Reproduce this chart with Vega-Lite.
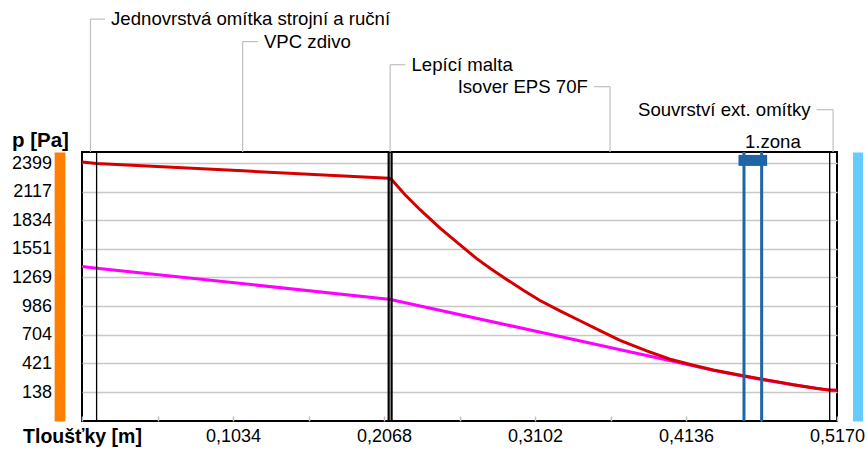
{
  "$schema": "https://vega.github.io/schema/vega-lite/v6.json",
  "width": 755,
  "height": 269,
  "autosize": {"type": "none"},
  "padding": {"left": 82, "top": 152, "right": 30, "bottom": 31},
  "background": "white",
  "config": {
    "view": {"stroke": "#000000", "strokeWidth": 2},
    "font": "Liberation Sans",
    "text": {"font": "Liberation Sans", "fontSize": 18.6, "color": "#000000"}
  },
  "datasets": {
    "profile": [
      {"series": "p", "x": 0, "p": 1377},
      {"series": "p", "x": 0.01, "p": 1361},
      {"series": "p", "x": 0.21, "p": 1055},
      {"series": "p", "x": 0.212, "p": 1050},
      {"series": "p", "x": 0.3273, "p": 686},
      {"series": "p", "x": 0.4186, "p": 398},
      {"series": "p", "x": 0.4323, "p": 352},
      {"series": "p", "x": 0.4533, "p": 294},
      {"series": "p", "x": 0.4654, "p": 261},
      {"series": "p", "x": 0.4871, "p": 210},
      {"series": "p", "x": 0.5115, "p": 157},
      {"series": "p", "x": 0.517, "p": 155},
      {"series": "psat", "x": 0, "p": 2409},
      {"series": "psat", "x": 0.01, "p": 2395},
      {"series": "psat", "x": 0.11, "p": 2322},
      {"series": "psat", "x": 0.21, "p": 2249},
      {"series": "psat", "x": 0.212, "p": 2236},
      {"series": "psat", "x": 0.2212, "p": 2086},
      {"series": "psat", "x": 0.2315, "p": 1938},
      {"series": "psat", "x": 0.2452, "p": 1757},
      {"series": "psat", "x": 0.2589, "p": 1590},
      {"series": "psat", "x": 0.2703, "p": 1455},
      {"series": "psat", "x": 0.2794, "p": 1360},
      {"series": "psat", "x": 0.2908, "p": 1250},
      {"series": "psat", "x": 0.3022, "p": 1142},
      {"series": "psat", "x": 0.3136, "p": 1042},
      {"series": "psat", "x": 0.3273, "p": 940},
      {"series": "psat", "x": 0.341, "p": 842},
      {"series": "psat", "x": 0.3547, "p": 745},
      {"series": "psat", "x": 0.3684, "p": 648},
      {"series": "psat", "x": 0.3867, "p": 545},
      {"series": "psat", "x": 0.4027, "p": 462},
      {"series": "psat", "x": 0.4186, "p": 402},
      {"series": "psat", "x": 0.4323, "p": 355},
      {"series": "psat", "x": 0.4528, "p": 298},
      {"series": "psat", "x": 0.4689, "p": 258},
      {"series": "psat", "x": 0.4871, "p": 209},
      {"series": "psat", "x": 0.5031, "p": 172},
      {"series": "psat", "x": 0.5115, "p": 158},
      {"series": "psat", "x": 0.517, "p": 156}
    ],
    "boundaries": [
      {"x": 0.01},
      {"x": 0.21},
      {"x": 0.212},
      {"x": 0.512}
    ],
    "layers": [
      {"name": "Jednovrstvá omítka strojní a ruční", "x": 0.0058, "elbow": 0.0158, "level": 3820, "side": "right"},
      {"name": "VPC zdivo", "x": 0.11, "elbow": 0.1205, "level": 3598, "side": "right"},
      {"name": "Lepící malta", "x": 0.211, "elbow": 0.2215, "level": 3370, "side": "right"},
      {"name": "Isover EPS 70F", "x": 0.3616, "elbow": 0.3505, "level": 3153, "side": "left"},
      {"name": "Souvrství ext. omítky", "x": 0.5143, "elbow": 0.503, "level": 2926, "side": "left"}
    ],
    "zone": [
      {"label": "1.zona", "start": 0.4533, "end": 0.4654}
    ]
  },
  "resolve": {"axis": {"y": "independent"}},
  "layer": [
    {
      "data": {"name": "profile"},
      "transform": [{"filter": "datum.series == 'p'"}],
      "mark": {"type": "line", "color": "#ff00ff", "strokeWidth": 3, "clip": false},
      "encoding": {
        "x": {
          "field": "x", "type": "quantitative",
          "scale": {"domain": [0, 0.517], "nice": false, "zero": false},
          "axis": {
            "values": [0, 0.0517, 0.1034, 0.1551, 0.2068, 0.2585, 0.3102, 0.3619, 0.4136, 0.4653, 0.517],
            "domain": false,
            "grid": false,
            "tickSize": -5,
            "tickColor": "#c0c0c0",
            "tickWidth": 1.5,
            "labelExpr": "datum.value == 0 ? 'Tloušťky [m]' : (abs(datum.value / 0.1034 - round(datum.value / 0.1034)) < 0.01 ? replace(format(datum.value, '.4f'), '.', ',') : '')",
            "labelFont": "Liberation Sans",
            "labelFontSize": {"condition": {"test": "datum.value == 0", "value": 19.5}, "value": 18},
            "labelColor": "#000000",
            "labelFontWeight": {"condition": {"test": "datum.value == 0", "value": "bold"}, "value": "normal"},
            "labelPadding": 11,
            "labelFlush": false,
            "labelOverlap": false,
            "labelBound": false,
            "title": null
          }
        },
        "y": {
          "field": "p", "type": "quantitative",
          "scale": {"domain": [-148, 2508], "nice": false, "zero": false},
          "axis": {
            "orient": "left",
            "values": [138, 421, 704, 986, 1269, 1551, 1834, 2117, 2399],
            "format": "d",
            "offset": 22.5,
            "domainColor": "#ff8000",
            "domainWidth": 10.7,
            "domainCap": "butt",
            "ticks": false,
            "labelPadding": 8,
            "labelFont": "Liberation Sans",
            "labelFontSize": 18,
            "labelColor": "#000000",
            "grid": true,
            "gridColor": "#c8c8c8",
            "gridWidth": 1.5,
            "title": "p [Pa]",
            "titleFont": "Liberation Sans",
            "titleAngle": 0,
            "titleFontSize": 20.5,
            "titleFontWeight": "bold",
            "titleColor": "#000000",
            "titleAlign": "left",
            "titleBaseline": "middle",
            "titleX": -48,
            "titleY": -12
          }
        }
      }
    },
    {
      "data": {"name": "profile"},
      "transform": [{"filter": "datum.series == 'psat'"}],
      "mark": {"type": "line", "color": "#d40000", "strokeWidth": 3, "clip": false},
      "encoding": {
        "x": {"field": "x", "type": "quantitative", "scale": {"domain": [0, 0.517], "nice": false, "zero": false}},
        "y": {
          "field": "p", "type": "quantitative",
          "scale": {"domain": [-148, 2508], "nice": false, "zero": false},
          "axis": {
            "orient": "right",
            "offset": 20.5,
            "domainColor": "#66ccff",
            "domainWidth": 10,
            "domainCap": "butt",
            "ticks": false,
            "labels": false,
            "grid": false,
            "title": null
          }
        }
      }
    },
    {
      "data": {"name": "boundaries"},
      "transform": [{"filter": "datum.x < 0.1 || datum.x > 0.5"}],
      "mark": {"type": "rule", "color": "#000000", "strokeWidth": 1.3},
      "encoding": {
        "x": {"field": "x", "type": "quantitative", "scale": {"domain": [0, 0.517], "nice": false, "zero": false}}
      }
    },
    {
      "data": {"name": "boundaries"},
      "transform": [{"filter": "datum.x > 0.1 && datum.x < 0.5"}],
      "mark": {"type": "rule", "color": "#000000", "strokeWidth": 2.2},
      "encoding": {
        "x": {"field": "x", "type": "quantitative", "scale": {"domain": [0, 0.517], "nice": false, "zero": false}}
      }
    },
    {
      "data": {"name": "zone"},
      "mark": {"type": "rule", "color": "#1f65a6", "strokeWidth": 3},
      "encoding": {
        "x": {"field": "start", "type": "quantitative", "scale": {"domain": [0, 0.517], "nice": false, "zero": false}}
      }
    },
    {
      "data": {"name": "zone"},
      "mark": {"type": "rule", "color": "#1f65a6", "strokeWidth": 3},
      "encoding": {
        "x": {"field": "end", "type": "quantitative", "scale": {"domain": [0, 0.517], "nice": false, "zero": false}}
      }
    },
    {
      "data": {"name": "zone"},
      "mark": {"type": "rule", "color": "#1f65a6", "strokeWidth": 11, "strokeCap": "square", "clip": false},
      "encoding": {
        "x": {"field": "start", "type": "quantitative", "scale": {"domain": [0, 0.517], "nice": false, "zero": false}},
        "x2": {"field": "end"},
        "y": {"datum": 2425, "type": "quantitative", "scale": {"domain": [-148, 2508], "nice": false, "zero": false}, "axis": null}
      }
    },
    {
      "data": {"name": "zone"},
      "mark": {"type": "text", "align": "left", "baseline": "middle", "dx": 1, "fontSize": 18.6, "clip": false},
      "encoding": {
        "x": {"field": "start", "type": "quantitative", "scale": {"domain": [0, 0.517], "nice": false, "zero": false}},
        "y": {"datum": 2609, "type": "quantitative", "scale": {"domain": [-148, 2508], "nice": false, "zero": false}, "axis": null},
        "text": {"field": "label"}
      }
    },
    {
      "data": {"name": "layers"},
      "mark": {"type": "rule", "color": "#c0c0c0", "strokeWidth": 1.2, "clip": false},
      "encoding": {
        "x": {"field": "x", "type": "quantitative", "scale": {"domain": [0, 0.517], "nice": false, "zero": false}},
        "y": {"field": "level", "type": "quantitative", "scale": {"domain": [-148, 2508], "nice": false, "zero": false}, "axis": null},
        "y2": {"datum": 2508}
      }
    },
    {
      "data": {"name": "layers"},
      "mark": {"type": "rule", "color": "#c0c0c0", "strokeWidth": 1.2, "clip": false},
      "encoding": {
        "x": {"field": "x", "type": "quantitative", "scale": {"domain": [0, 0.517], "nice": false, "zero": false}},
        "x2": {"field": "elbow"},
        "y": {"field": "level", "type": "quantitative", "scale": {"domain": [-148, 2508], "nice": false, "zero": false}, "axis": null}
      }
    },
    {
      "data": {"name": "layers"},
      "transform": [{"filter": "datum.side == 'right'"}],
      "mark": {"type": "text", "align": "left", "baseline": "middle", "dx": 6, "fontSize": 18.6, "clip": false},
      "encoding": {
        "x": {"field": "elbow", "type": "quantitative", "scale": {"domain": [0, 0.517], "nice": false, "zero": false}},
        "y": {"field": "level", "type": "quantitative", "scale": {"domain": [-148, 2508], "nice": false, "zero": false}, "axis": null},
        "text": {"field": "name"}
      }
    },
    {
      "data": {"name": "layers"},
      "transform": [{"filter": "datum.side == 'left'"}],
      "mark": {"type": "text", "align": "right", "baseline": "middle", "dx": -6, "fontSize": 18.6, "clip": false},
      "encoding": {
        "x": {"field": "elbow", "type": "quantitative", "scale": {"domain": [0, 0.517], "nice": false, "zero": false}},
        "y": {"field": "level", "type": "quantitative", "scale": {"domain": [-148, 2508], "nice": false, "zero": false}, "axis": null},
        "text": {"field": "name"}
      }
    }
  ]
}
